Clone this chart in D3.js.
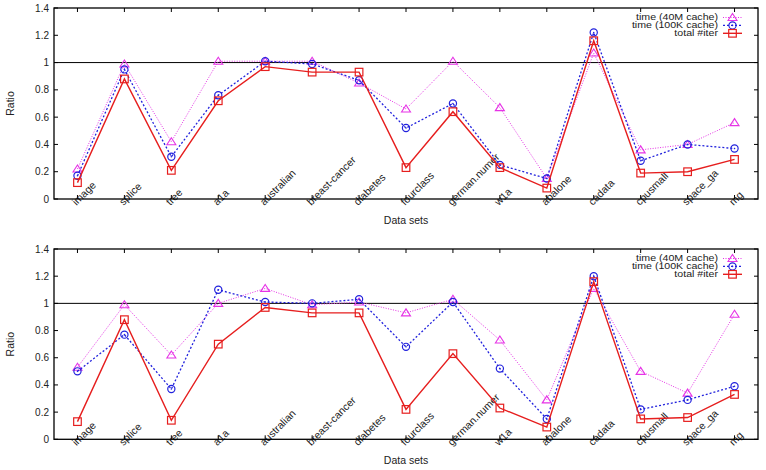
<!DOCTYPE html>
<html lang="en">
<head>
<meta charset="UTF-8"/>
<title>Ratio by data set</title>
<script src="https://d3js.org/d3.v7.min.js"></script>
<style>
  body { margin: 0; background: white; }
  svg text { font-family: "Liberation Sans", Arial, sans-serif; fill: #222; }
</style>
</head>
<body>
<script>
var w = 766;
var h = 470;

var categories = ["image", "splice", "tree", "a1a", "australian", "breast-cancer", "diabetes",
                  "fourclass", "german.numer", "w1a", "abalone", "cadata", "cpusmall", "space_ga", "mg"];
var yTicks = [0, 0.2, 0.4, 0.6, 0.8, 1, 1.2, 1.4];
var seriesNames = ["time (40M cache)", "time (100K cache)", "total #iter"];

// top panel
var top40M  = [0.22, 0.99, 0.42, 1.01, 1.01, 1.01, 0.85, 0.66, 1.01, 0.67, 0.15, 1.07, 0.36, 0.40, 0.56];
var top100K = [0.17, 0.95, 0.31, 0.76, 1.01, 0.99, 0.87, 0.52, 0.70, 0.25, 0.15, 1.22, 0.28, 0.40, 0.37];
var topIter = [0.12, 0.88, 0.21, 0.72, 0.97, 0.93, 0.93, 0.23, 0.64, 0.23, 0.08, 1.16, 0.19, 0.20, 0.29];

// bottom panel
var bot40M  = [0.53, 0.99, 0.62, 1.00, 1.11, 0.99, 1.01, 0.93, 1.03, 0.73, 0.29, 1.11, 0.50, 0.34, 0.92];
var bot100K = [0.50, 0.77, 0.37, 1.10, 1.01, 1.00, 1.03, 0.68, 1.01, 0.52, 0.15, 1.20, 0.22, 0.29, 0.39];
var botIter = [0.13, 0.88, 0.14, 0.70, 0.97, 0.93, 0.93, 0.22, 0.63, 0.23, 0.09, 1.16, 0.15, 0.16, 0.33];

var styles = [
	{ color: "#e633e6", width: 1, dash: "1,1.5", marker: "triangle" },
	{ color: "#2222dd", width: 1.3, dash: "2,2", marker: "circle" },
	{ color: "#e61e1e", width: 1.4, dash: null, marker: "square" }
];

var svg = d3.select("body")
			.append("svg")
			.attr("width", w)
			.attr("height", h);

var xScale = d3.scalePoint()
				.domain(categories)
				.range([54, 758])
				.padding(0.5);

function drawPanel(top, bottom, data) {
	var yScale = d3.scaleLinear()
					.domain([0, 1.4])
					.range([bottom, top]);
	var left = 54, right = 758;
	var g = svg.append("g");

	// reference line at 1
	g.append("line")
		.attr("x1", left).attr("x2", right)
		.attr("y1", yScale(1)).attr("y2", yScale(1))
		.attr("stroke", "black").attr("stroke-width", 1);

	// y ticks on both sides, pointing in
	yTicks.forEach(function(t) {
		g.append("line").attr("x1", left).attr("x2", left + 4)
			.attr("y1", yScale(t)).attr("y2", yScale(t)).attr("stroke", "black");
		g.append("line").attr("x1", right).attr("x2", right - 4)
			.attr("y1", yScale(t)).attr("y2", yScale(t)).attr("stroke", "black");
		g.append("text")
			.attr("x", left - 5)
			.attr("y", yScale(t))
			.attr("dy", "0.35em")
			.attr("text-anchor", "end")
			.style("font-size", "10px")
			.text(t);
	});

	// x ticks top and bottom, plus rotated labels
	categories.forEach(function(c) {
		var x = xScale(c);
		g.append("line").attr("x1", x).attr("x2", x)
			.attr("y1", top).attr("y2", top + 4).attr("stroke", "black");
		g.append("line").attr("x1", x).attr("x2", x)
			.attr("y1", bottom).attr("y2", bottom - 4).attr("stroke", "black");
		g.append("text")
			.attr("transform", "translate(" + (x - 1) + "," + (bottom + 7) + ") rotate(-45)")
			.style("font-size", "10.5px")
			.text(c);
	});

	// frame
	g.append("rect")
		.attr("x", left).attr("y", top)
		.attr("width", right - left).attr("height", bottom - top)
		.attr("fill", "none").attr("stroke", "black").attr("stroke-width", 1.3);

	// axis titles
	g.append("text")
		.attr("transform", "translate(14," + ((top + bottom) / 2) + ") rotate(-90)")
		.attr("text-anchor", "middle")
		.style("font-size", "10.5px")
		.text("Ratio");
	g.append("text")
		.attr("x", (left + right) / 2)
		.attr("y", bottom + 25)
		.attr("text-anchor", "middle")
		.style("font-size", "10.5px")
		.text("Data sets");

	var line = d3.line()
				.x(function(d, i) { return xScale(categories[i]); })
				.y(function(d) { return yScale(d); });

	data.forEach(function(vals, s) {
		var st = styles[s];
		g.append("path")
			.datum(vals)
			.attr("d", line)
			.attr("fill", "none")
			.attr("stroke", st.color)
			.attr("stroke-width", st.width)
			.attr("stroke-dasharray", st.dash);
		vals.forEach(function(v, i) {
			drawMarker(g, st, xScale(categories[i]), yScale(v));
		});
	});

	// legend (text is squat and wide in the original, so stretch it)
	seriesNames.forEach(function(name, s) {
		var st = styles[s];
		var ly = top + 9.5 + s * 7.9;
		g.append("text")
			.attr("transform", "translate(718," + ly + ") scale(1.25,1)")
			.attr("dy", "0.35em")
			.attr("text-anchor", "end")
			.style("font-size", "8.5px")
			.text(name);
		g.append("line")
			.attr("x1", 723).attr("x2", 742)
			.attr("y1", ly).attr("y2", ly)
			.attr("stroke", st.color)
			.attr("stroke-width", st.width)
			.attr("stroke-dasharray", st.dash);
		drawMarker(g, st, 732.5, ly);
	});
}

function drawMarker(g, st, x, y) {
	if (st.marker == "triangle") {
		g.append("path")
			.attr("d", "M" + (x - 4.5) + "," + (y + 3) + "L" + x + "," + (y - 4) + "L" + (x + 4.5) + "," + (y + 3) + "Z")
			.attr("fill", "none").attr("stroke", st.color).attr("stroke-width", 1.1);
	} else if (st.marker == "circle") {
		g.append("circle").attr("cx", x).attr("cy", y).attr("r", 3.6)
			.attr("fill", "none").attr("stroke", st.color).attr("stroke-width", 1.2);
		g.append("circle").attr("cx", x).attr("cy", y).attr("r", 0.8)
			.attr("fill", st.color);
	} else {
		g.append("rect").attr("x", x - 3.8).attr("y", y - 3.8)
			.attr("width", 7.6).attr("height", 7.6)
			.attr("fill", "none").attr("stroke", st.color).attr("stroke-width", 1.2);
	}
}

drawPanel(8, 199, [top40M, top100K, topIter]);
drawPanel(249, 439.3, [bot40M, bot100K, botIter]);
</script>
</body>
</html>
